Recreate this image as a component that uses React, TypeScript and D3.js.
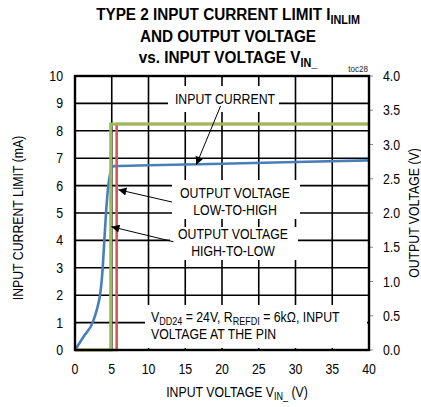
import React from "react";
import * as d3 from "d3";

const xTicks = [0, 5, 10, 15, 20, 25, 30, 35, 40];
const yLeftTicks = [0, 1, 2, 3, 4, 5, 6, 7, 8, 9, 10];
const yRightTicks = [0, 0.5, 1, 1.5, 2, 2.5, 3, 3.5, 4];

// Input current (mA) vs input voltage (V)
const currentVin = [0, 1.2, 2.4, 3.0, 3.4, 3.62, 3.77, 3.99, 4.22, 4.53, 4.8, 5.1, 5.3, 10, 20, 30, 40];
const currentMa = [0, 0.5, 1.0, 1.5, 2.0, 2.5, 3.0, 4.0, 5.0, 6.0, 6.45, 6.68, 6.71, 6.74, 6.8, 6.86, 6.92];

// Output voltage (V) – low-to-high (red), high-to-low (green)
const lowHighVin = [0, 5.67, 5.67, 40];
const lowHighVout = [0, 0, 3.3, 3.3];
const highLowVin = [0, 4.86, 4.86, 40];
const highLowVout = [0, 0, 3.3, 3.3];

const W = 421;
const H = 407;
const M = { left: 75, right: 369, top: 76, bottom: 350 };

const FONT = "'Liberation Sans', Arial, Helvetica, sans-serif";
const SX = 0.82;

function T(props: {
  x: number;
  y: number;
  anchor?: "start" | "middle" | "end";
  size?: number;
  sx?: number;
  rot?: number;
  weight?: string;
  fill?: string;
  children: React.ReactNode;
}) {
  const { x, y, anchor = "start", size = 15, sx = SX, rot = 0, weight = "normal", fill = "#000", children } = props;
  return (
    <text
      transform={`translate(${x},${y})${rot ? ` rotate(${rot})` : ""} scale(${sx},1)`}
      textAnchor={anchor}
      fontFamily={FONT}
      fontSize={size}
      fontWeight={weight}
      fill={fill}
    >
      {children}
    </text>
  );
}

export default function App() {
  const x = d3.scaleLinear().domain([0, 40]).range([M.left, M.right]);
  const yL = d3.scaleLinear().domain([0, 10]).range([M.bottom, M.top]);
  const yR = d3.scaleLinear().domain([0, 4]).range([M.bottom, M.top]);

  const curLine = d3
    .line<number>()
    .x((_, i) => x(currentVin[i]))
    .y((d) => yL(d))
    .curve(d3.curveMonotoneX);
  const stepLineLH = d3
    .line<number>()
    .x((_, i) => x(lowHighVin[i]))
    .y((d) => yR(d));
  const stepLineHL = d3
    .line<number>()
    .x((_, i) => x(highLowVin[i]))
    .y((d) => yR(d));

  const arrows = [
    { x1: x(19.8), y1: yL(8.9), x2: x(16.5), y2: yL(6.76) },
    { x1: x(13.2), y1: yL(5.4), x2: x(5.9), y2: yL(5.85) },
    { x1: x(13.4), y1: yL(3.95), x2: x(4.95), y2: yL(4.5) },
  ];

  return (
    <svg width={W} height={H} style={{ position: "absolute", left: 0, top: 0, background: "#fff" }}>
      <defs>
        <marker id="ah" viewBox="0 0 10 10" refX="10" refY="5" markerWidth="11" markerHeight="8" markerUnits="userSpaceOnUse" orient="auto">
          <path d="M0,0 L10,5 L0,10 z" fill="#000" />
        </marker>
      </defs>
      <rect x={0} y={0} width={W} height={H} fill="#fff" />

      {/* Title */}
      <T x={228} y={20} anchor="middle" size={17} sx={0.9} weight="bold">
        TYPE 2 INPUT CURRENT LIMIT I
        <tspan fontSize={12} dy={4}>INLIM</tspan>
      </T>
      <T x={228} y={42} anchor="middle" size={17} sx={0.9} weight="bold">AND OUTPUT VOLTAGE</T>
      <T x={228} y={63} anchor="middle" size={17} sx={0.9} weight="bold">
        vs. INPUT VOLTAGE V
        <tspan fontSize={12} dy={4}>IN_</tspan>
      </T>
      <T x={368} y={72} anchor="end" size={9.5} sx={0.85} fill="#222">toc28</T>

      {/* Grid */}
      <g stroke="#000" strokeWidth={1.6}>
        {xTicks.slice(1, -1).map((t) => (
          <line key={"gx" + t} x1={x(t)} x2={x(t)} y1={M.top} y2={M.bottom} />
        ))}
        {yLeftTicks.slice(1, -1).map((t) => (
          <line key={"gy" + t} x1={M.left} x2={M.right} y1={yL(t)} y2={yL(t)} />
        ))}
      </g>

      {/* White annotation boxes */}
      <g fill="#fff">
        <rect x={168} y={86} width={111} height={26} />
        <rect x={172} y={180} width={128} height={39} />
        <rect x={170} y={227} width={128} height={33} />
        <rect x={145} y={305} width={222} height={43} />
      </g>

      {/* Right axis ticks */}
      <g stroke="#888" strokeWidth={1}>
        {yRightTicks.map((t) => (
          <line key={"rt" + t} x1={M.right} x2={M.right + 4} y1={yR(t)} y2={yR(t)} />
        ))}
      </g>

      {/* Data */}
      <path d={curLine(currentMa) || ""} fill="none" stroke="#4a7ebb" strokeWidth={2.6} />
      <path d={stepLineLH(lowHighVout) || ""} fill="none" stroke="#cf5a57" strokeWidth={2.6} />
      <path d={stepLineHL(highLowVout) || ""} fill="none" stroke="#9bbb59" strokeWidth={3} />

      {/* Plot border */}
      <rect x={M.left} y={M.top} width={M.right - M.left} height={M.bottom - M.top} fill="none" stroke="#000" strokeWidth={2.4} />

      {/* Arrows */}
      <g stroke="#000" strokeWidth={1}>
        {arrows.map((a, i) => (
          <line key={"ar" + i} x1={a.x1} y1={a.y1} x2={a.x2} y2={a.y2} markerEnd="url(#ah)" />
        ))}
      </g>

      {/* Annotations */}
      <T x={225} y={104} anchor="middle">INPUT CURRENT</T>
      <T x={235} y={198} anchor="middle">OUTPUT VOLTAGE</T>
      <T x={235} y={215} anchor="middle">LOW-TO-HIGH</T>
      <T x={233} y={239} anchor="middle">OUTPUT VOLTAGE</T>
      <T x={233} y={256} anchor="middle">HIGH-TO-LOW</T>
      <T x={151} y={322}>
        V<tspan fontSize={11} dy={3}>DD24</tspan>
        <tspan dy={-3}> = 24V, R</tspan>
        <tspan fontSize={11} dy={3}>REFDI</tspan>
        <tspan dy={-3}> = 6kΩ, INPUT</tspan>
      </T>
      <T x={151} y={339}>VOLTAGE AT THE PIN</T>

      {/* Tick labels */}
      {yLeftTicks.map((t) => (
        <T key={"yl" + t} x={63} y={yL(t) + 5} anchor="end" size={14.5} sx={0.85}>{t}</T>
      ))}
      {yRightTicks.map((t) => (
        <T key={"yr" + t} x={383} y={yR(t) + 5} anchor="start" size={14.5} sx={0.85}>{t.toFixed(1)}</T>
      ))}
      {xTicks.map((t) => (
        <T key={"xt" + t} x={x(t)} y={374} anchor="middle" size={14.5} sx={0.85}>{t}</T>
      ))}

      {/* Axis titles */}
      <T x={23} y={(M.top + M.bottom) / 2 + 5} anchor="middle" rot={-90}>INPUT CURRENT LIMIT (mA)</T>
      <T x={419} y={(M.top + M.bottom) / 2} anchor="middle" rot={-90}>OUTPUT VOLTAGE (V)</T>
      <T x={237} y={397} anchor="middle">
        INPUT VOLTAGE V<tspan fontSize={11} dy={3}>IN_</tspan>
        <tspan dy={-3}> (V)</tspan>
      </T>
    </svg>
  );
}
